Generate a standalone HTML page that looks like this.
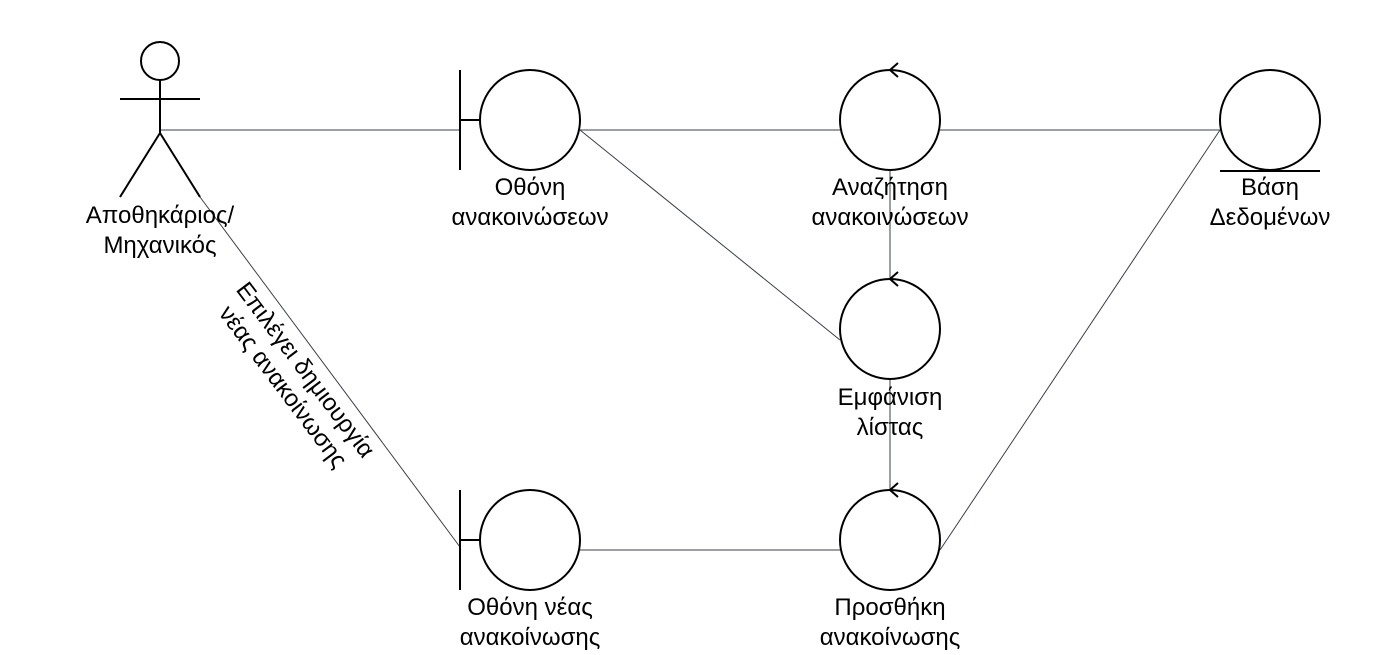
<!DOCTYPE html>
<html><head><meta charset="utf-8"><style>
html,body{margin:0;padding:0;background:#fff;}
svg text{font-family:"Liberation Sans","DejaVu Sans",sans-serif;font-size:24px;fill:#000;}
</style></head><body>
<svg width="1400" height="650" viewBox="0 0 1400 650" xmlns="http://www.w3.org/2000/svg">
<g stroke="#3a3f4a" stroke-width="1" fill="none">
<line x1="160" y1="130" x2="460" y2="130"/>
<line x1="580" y1="130" x2="840" y2="130"/>
<line x1="940" y1="130" x2="1220" y2="130"/>
<line x1="580" y1="130" x2="840" y2="340"/>
<line x1="890" y1="170" x2="890" y2="280"/>
<line x1="890" y1="379" x2="890" y2="490"/>
<line x1="580" y1="550" x2="840" y2="550"/>
<line x1="940" y1="550" x2="1220" y2="130"/>
<line x1="200" y1="197" x2="460" y2="547"/>
</g>
<g stroke="#000" stroke-width="2" fill="none">
<circle cx="160" cy="61" r="19"/>
<line x1="160" y1="80" x2="160" y2="133"/>
<line x1="120" y1="99" x2="200" y2="99"/>
<line x1="160" y1="133" x2="120" y2="197"/>
<line x1="160" y1="133" x2="200" y2="197"/>
<line x1="460" y1="70" x2="460" y2="170"/>
<line x1="460" y1="120" x2="480" y2="120"/>
<circle cx="530" cy="120" r="50"/>
<circle cx="890" cy="120" r="50"/>
<polyline points="898,63 890,70 898,77"/>
<circle cx="1270" cy="120" r="50"/>
<line x1="1220" y1="171" x2="1320" y2="171"/>
<circle cx="890" cy="329" r="50"/>
<polyline points="898,272 890,279 898,286"/>
<line x1="460" y1="490" x2="460" y2="590"/>
<line x1="460" y1="540" x2="480" y2="540"/>
<circle cx="530" cy="540" r="50"/>
<circle cx="890" cy="540" r="50"/>
<polyline points="898,483 890,490 898,497"/>
</g>
<g text-anchor="middle">
<text x="160" y="223">Αποθηκάριος/</text>
<text x="160" y="253">Μηχανικός</text>
<text x="530" y="195">Οθόνη</text>
<text x="530" y="225">ανακοινώσεων</text>
<text x="890" y="195">Αναζήτηση</text>
<text x="890" y="225">ανακοινώσεων</text>
<text x="1270" y="195">Βάση</text>
<text x="1270" y="225">Δεδομένων</text>
<text x="890" y="405">Εμφάνιση</text>
<text x="890" y="435">λίστας</text>
<text x="530" y="615">Οθόνη νέας</text>
<text x="530" y="645">ανακοίνωσης</text>
<text x="890" y="615">Προσθήκη</text>
<text x="890" y="645">ανακοίνωσης</text>
<g transform="translate(296,377) rotate(53)">
<text x="0" y="-4">Επιλέγει δημιουργία</text>
<text x="0" y="24">νέας ανακοίνωσης</text>
</g>
</g>
</svg>
</body></html>
